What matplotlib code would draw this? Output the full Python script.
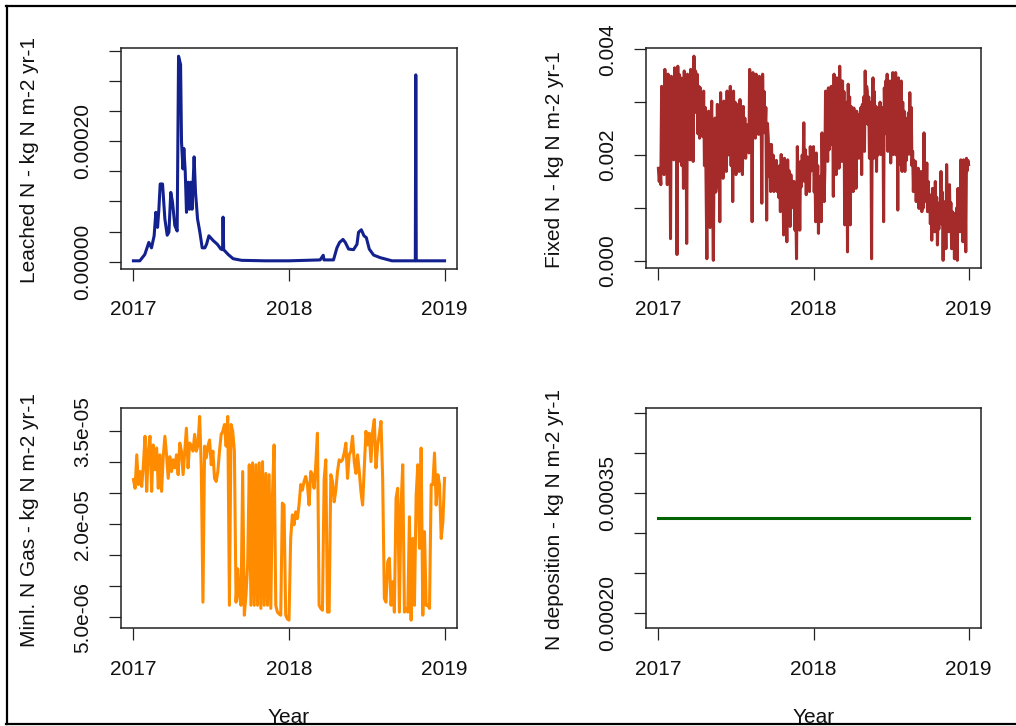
import numpy as np
import matplotlib
matplotlib.use("Agg")
import matplotlib.pyplot as plt
from matplotlib.lines import Line2D

plt.rcParams["font.family"] = ["Liberation Sans", "DejaVu Sans"]

W, H = 1016, 726

# ---- Leached N (sparse trace, decimal year offsets from 2017) ----
leach_t = [0.000, 0.041, 0.073, 0.099, 0.116, 0.133, 0.144, 0.155, 0.163, 0.172,
           0.187, 0.202, 0.217, 0.228, 0.240, 0.251, 0.266, 0.281, 0.290, 0.303,
           0.309, 0.318, 0.324, 0.333, 0.341, 0.352, 0.360, 0.369, 0.377, 0.390,
           0.399, 0.412, 0.427, 0.442, 0.459, 0.470, 0.485, 0.513, 0.539, 0.562,
           0.573, 0.576, 0.580, 0.609, 0.641, 0.695, 0.850, 1.000, 1.200, 1.220,
           1.225, 1.286, 1.308, 1.325, 1.347, 1.362, 1.383, 1.415, 1.437, 1.447,
           1.465, 1.482, 1.497, 1.516, 1.544, 1.587, 1.662, 1.812, 1.815, 1.818,
           2.000]
leach_v = [1.5e-6, 1.5e-6, 1.2e-5, 3.2e-5, 2.3e-5, 4.3e-5, 8.2e-5, 5.7e-5, 8.5e-5, 1.29e-4,
           1.29e-4, 7.1e-5, 4.4e-5, 4.9e-5, 1.15e-4, 9.9e-5, 6.0e-5, 5.1e-5, 3.41e-4, 3.27e-4,
           1.99e-4, 1.54e-4, 1.88e-4, 1.49e-4, 8.2e-5, 1.32e-4, 8.7e-5, 1.32e-4, 8.7e-5, 1.74e-4,
           1.15e-4, 7.1e-5, 4.9e-5, 2.3e-5, 2.3e-5, 2.9e-5, 4.3e-5, 3.5e-5, 2.9e-5, 2.1e-5,
           2.0e-5, 7.4e-5, 2.0e-5, 1.2e-5, 5.0e-6, 2.3e-6, 1.5e-6, 1.5e-6, 3.0e-6, 1.07e-5,
           3.0e-6, 3.0e-6, 2.3e-5, 3.2e-5, 3.7e-5, 3.2e-5, 2.1e-5, 2.0e-5, 2.9e-5, 4.9e-5,
           5.3e-5, 4.3e-5, 4.0e-5, 2.1e-5, 1.1e-5, 6.7e-6, 1.5e-6, 1.5e-6, 3.10e-4, 1.5e-6,
           1.5e-6]

# ---- Fixed N (read every ~2 days) ----
fixed_2017 = [0.00175, 0.00150, 0.00168, 0.00144, 0.00330, 0.00170, 0.00298, 0.00163,
              0.00362, 0.00180, 0.00340, 0.00144, 0.00353, 0.00210, 0.00335, 0.00042,
              0.00349, 0.00200, 0.00330, 0.00191, 0.00365, 0.00220, 0.00350, 0.00012,
              0.00368, 0.00195, 0.00352, 0.00188, 0.00346, 0.00180, 0.00320, 0.00137,
              0.00359, 0.00200, 0.00340, 0.00033, 0.00353, 0.00210, 0.00345, 0.00191,
              0.00362, 0.00230, 0.00350, 0.00188, 0.00387, 0.00300, 0.00359, 0.00280,
              0.00353, 0.00240, 0.00330, 0.00232, 0.00327, 0.00250, 0.00310, 0.00235,
              0.00321, 0.00180, 0.00290, 0.00137, 0.00004, 0.00250, 0.00283, 0.00150,
              0.00063, 0.00260, 0.00302, 0.00140, 0.00001, 0.00220, 0.00270, 0.00130,
              0.00144, 0.00296, 0.00180, 0.00280, 0.00074, 0.00318, 0.00170, 0.00290,
              0.00156, 0.00302, 0.00190, 0.00285, 0.00169, 0.00321, 0.00200, 0.00300,
              0.00201, 0.00330, 0.00180, 0.00310, 0.00112, 0.00321, 0.00170, 0.00300,
              0.00163, 0.00296, 0.00190, 0.00280, 0.00169, 0.00305, 0.00200, 0.00290,
              0.00163, 0.00292, 0.00210, 0.00270, 0.00194, 0.00258, 0.00210, 0.00240,
              0.00204, 0.00362, 0.00250, 0.00350, 0.00074, 0.00356, 0.00260, 0.00345,
              0.00232, 0.00353, 0.00270, 0.00340, 0.00239, 0.00349, 0.00260, 0.00330,
              0.00109, 0.00353, 0.00250, 0.00320, 0.00242, 0.00290, 0.00077, 0.00260,
              0.00232, 0.00160, 0.00220, 0.00131, 0.00220, 0.00150, 0.00200, 0.00131,
              0.00185, 0.00140, 0.00190, 0.00131, 0.00175, 0.00120, 0.00180, 0.00093,
              0.00201, 0.00110, 0.00170, 0.00049, 0.00194, 0.00120, 0.00160, 0.00036,
              0.00191, 0.00110, 0.00170, 0.00065, 0.00163, 0.00120, 0.00150, 0.00100,
              0.00150, 0.00058, 0.00120, 0.00004, 0.00216, 0.00120, 0.00180, 0.00058,
              0.00188, 0.00140, 0.00200, 0.00163, 0.00261, 0.00150, 0.00210, 0.00125,
              0.00197, 0.00150, 0.00190, 0.00131, 0.00216, 0.00170, 0.00200, 0.00194]
fixed_2018 = [0.00216, 0.00130, 0.00190, 0.00074, 0.00204, 0.00120, 0.00180, 0.00052,
              0.00144, 0.00100, 0.00160, 0.00074, 0.00242, 0.00150, 0.00220, 0.00112,
              0.00169, 0.00321, 0.00200, 0.00300, 0.00188, 0.00327, 0.00210, 0.00310,
              0.00220, 0.00330, 0.00230, 0.00320, 0.00122, 0.00353, 0.00220, 0.00330,
              0.00163, 0.00346, 0.00230, 0.00335, 0.00175, 0.00368, 0.00240, 0.00340,
              0.00188, 0.00340, 0.00220, 0.00320, 0.00068, 0.00251, 0.00200, 0.00300,
              0.00017, 0.00334, 0.00210, 0.00310, 0.00068, 0.00292, 0.00200, 0.00280,
              0.00131, 0.00289, 0.00210, 0.00270, 0.00137, 0.00283, 0.00220, 0.00275,
              0.00194, 0.00277, 0.00220, 0.00290, 0.00163, 0.00296, 0.00230, 0.00310,
              0.00207, 0.00359, 0.00260, 0.00330, 0.00320, 0.00258, 0.00310, 0.00194,
              0.00226, 0.00300, 0.00004, 0.00280, 0.00346, 0.00194, 0.00320, 0.00210,
              0.00292, 0.00169, 0.00280, 0.00200, 0.00290, 0.00226, 0.00300, 0.00201,
              0.00280, 0.00226, 0.00290, 0.00074, 0.00327, 0.00251, 0.00340, 0.00240,
              0.00353, 0.00207, 0.00330, 0.00220, 0.00340, 0.00185, 0.00320, 0.00210,
              0.00356, 0.00201, 0.00330, 0.00230, 0.00356, 0.00200, 0.00330, 0.00096,
              0.00346, 0.00182, 0.00320, 0.00200, 0.00340, 0.00169, 0.00300, 0.00190,
              0.00283, 0.00169, 0.00270, 0.00190, 0.00258, 0.00201, 0.00280, 0.00210,
              0.00318, 0.00201, 0.00290, 0.00180, 0.00207, 0.00131, 0.00190, 0.00140,
              0.00188, 0.00112, 0.00170, 0.00120, 0.00175, 0.00099, 0.00160, 0.00110,
              0.00169, 0.00093, 0.00150, 0.00100, 0.00242, 0.00112, 0.00170, 0.00120,
              0.00185, 0.00093, 0.00150, 0.00100, 0.00125, 0.00070, 0.00120, 0.00039,
              0.00137, 0.00080, 0.00130, 0.00055, 0.00150, 0.00080, 0.00120, 0.00030,
              0.00106, 0.00060, 0.00110, 0.00080, 0.00169, 0.00070, 0.00130, 0.00001,
              0.00112, 0.00060, 0.00100, 0.00023, 0.00182, 0.00080, 0.00140, 0.00055,
              0.00144, 0.00070, 0.00110, 0.00023, 0.00093, 0.00050, 0.00090, 0.00004,
              0.00080, 0.00040, 0.00100, 0.00001, 0.00137, 0.00070, 0.00120, 0.00055,
              0.00191, 0.00080, 0.00150, 0.00036, 0.00191, 0.00090, 0.00160, 0.00017,
              0.00194, 0.00170, 0.00190, 0.00182]

# ---- Mineralised N gas (units of 1e-5, read every ~4 days) ----
minl_2017 = [2.72, 2.58, 3.12, 2.64, 2.85, 2.61, 2.96, 3.42, 2.53, 3.18,
             3.42, 2.53, 3.28, 2.88, 3.23, 2.58, 3.12, 2.53, 3.09, 3.42,
             3.12, 2.74, 3.09, 2.85, 3.04, 2.91, 3.12, 2.80, 3.31, 3.18,
             2.80, 3.18, 3.55, 2.91, 3.31, 3.26, 3.18, 3.45, 3.18, 3.28,
             3.74, 2.91, 0.74, 3.26, 3.07, 3.26, 3.36, 2.96, 3.18, 2.74,
             2.69, 2.85, 3.18, 3.45, 3.50, 3.61, 3.26, 3.74, 0.69, 3.61,
             3.50, 3.18, 0.74, 1.28, 0.85, 0.69, 2.85, 0.53, 0.85, 1.34,
             2.96, 0.69, 2.99, 0.69, 2.96, 0.69, 2.99, 0.64, 3.01, 0.69,
             2.82, 0.69, 2.80, 0.64, 2.47, 3.28, 0.69, 0.58, 0.55, 0.53,
             2.34, 2.31, 0.53, 0.47]
minl_2018 = [0.45, 1.77, 2.15, 1.99, 2.20, 2.09, 2.31, 2.64, 2.55, 2.69,
             2.77, 2.64, 2.31, 2.85, 2.80, 2.58, 2.96, 3.47, 0.69, 0.64,
             0.61, 2.72, 3.04, 0.58, 0.58, 2.80, 2.69, 2.36, 2.55, 2.85,
             3.04, 3.01, 3.04, 3.15, 3.31, 2.74, 3.12, 3.18, 3.42, 3.01,
             2.82, 3.12, 2.85, 2.53, 2.31, 2.91, 3.50, 3.28, 3.47, 3.01,
             3.50, 3.69, 2.91, 3.28, 3.45, 3.66, 2.74, 0.80, 0.74, 1.39,
             1.45, 0.69, 1.07, 0.58, 2.42, 2.58, 0.58, 2.31, 2.96, 0.58,
             0.64, 0.58, 2.12, 0.45, 1.77, 0.69, 2.45, 2.96, 1.61, 3.23,
             0.53, 1.88, 0.69, 0.69, 0.64, 2.64, 2.64, 3.15, 2.31, 2.80,
             2.64, 1.77, 2.04, 2.74]

# ---- N deposition (constant) ----
dep_t = [2017.0, 2019.0]
dep_v = [0.000318, 0.000318]

x_ticks = [2017, 2018, 2019]
leach_ticks = [0, 5e-5, 1e-4, 1.5e-4, 2e-4, 2.5e-4, 3e-4, 3.5e-4]
leach_labels = ["0.00000", "", "", "", "0.00020", "", "", ""]
fixed_ticks = [0, 0.001, 0.002, 0.003, 0.004]
fixed_labels = ["0.000", "", "0.002", "", "0.004"]
minl_ticks = [5e-6, 1e-5, 1.5e-5, 2e-5, 2.5e-5, 3e-5, 3.5e-5]
minl_labels = ["5.0e-06", "", "", "2.0e-05", "", "", "3.5e-05"]
dep_ticks = [2e-4, 2.5e-4, 3e-4, 3.5e-4, 4e-4, 4.5e-4]
dep_labels = ["0.00020", "", "", "0.00035", "", ""]

FS = 15
INK = "#222222"


def box(x0, y0, x1, y1):
    return [x0 / W, 1 - y1 / H, (x1 - x0) / W, (y1 - y0) / H]


def style(ax, yticks, ylabels):
    ax.set_xticks(x_ticks)
    ax.set_xticklabels([str(v) for v in x_ticks], fontsize=FS)
    ax.set_yticks(yticks)
    ax.set_yticklabels(ylabels, fontsize=FS, rotation=90, va="center")
    ax.tick_params(axis="both", direction="out", length=8.6, width=0.9,
                   color=INK, labelcolor="#111111")
    ax.tick_params(axis="x", pad=14)
    ax.tick_params(axis="y", pad=12)
    for s in ax.spines.values():
        s.set_linewidth(1.1)
        s.set_color(INK)
    ax.margins(x=0.04, y=0.04)


fig = plt.figure(figsize=(W / 100, H / 100), dpi=100)

ax1 = fig.add_axes(box(121, 48, 457, 269))
ax1.plot(2017 + np.array(leach_t), leach_v, color="#13218f", lw=2.2)
style(ax1, leach_ticks, leach_labels)

ax2 = fig.add_axes(box(646, 48, 981, 268.5))
t_fixed = np.concatenate([np.linspace(2017, 2018, len(fixed_2017), endpoint=False),
                          np.linspace(2018, 2019, len(fixed_2018))])
ax2.plot(t_fixed, fixed_2017 + fixed_2018, color="#a52a2a", lw=2.2)
style(ax2, fixed_ticks, fixed_labels)

ax3 = fig.add_axes(box(121, 408.3, 457, 628.3))
t_minl = np.concatenate([np.linspace(2017, 2018, len(minl_2017), endpoint=False),
                         np.linspace(2018, 2019, len(minl_2018))])
ax3.plot(t_minl, np.array(minl_2017 + minl_2018) * 1e-5, color="#ff8c00", lw=2.2)
style(ax3, minl_ticks, minl_labels)

ax4 = fig.add_axes(box(646, 408.3, 981, 628.3))
ax4.plot(dep_t, dep_v, color="#006400", lw=2.2)
style(ax4, dep_ticks, dep_labels)
# R style range for a constant series: value +/- 40 %, then 4 % padding
lo, hi = dep_v[0] * 0.6, dep_v[0] * 1.4
pad = (hi - lo) * 0.04
ax4.set_ylim(lo - pad, hi + pad)

ylabels = [(30, 160, "Leached N - kg N m-2 yr-1"),
           (555, 160, "Fixed N - kg N m-2 yr-1"),
           (30, 520, "Minl. N Gas - kg N m-2 yr-1"),
           (555, 520, "N deposition - kg N m-2 yr-1")]
for x, y, s in ylabels:
    fig.text(x / W, 1 - y / H, s, rotation=90, ha="center", va="center",
             fontsize=FS, color="#111111")

for x in (289, 813.5):
    fig.text(x / W, 1 - 723 / H, "Year", ha="center", va="baseline",
             fontsize=FS, color="#111111")

# outer frame (top, left, bottom edges)
frame = dict(color="black", lw=1.6)
fig.add_artist(Line2D([6 / W, 1], [1 - 5.5 / H, 1 - 5.5 / H], **frame))
fig.add_artist(Line2D([6.5 / W, 6.5 / W], [1 - 5.5 / H, 1 - 724 / H], **frame))
fig.add_artist(Line2D([6 / W, 1], [1 - 724 / H, 1 - 724 / H], **frame))

fig.savefig("out.png", dpi=100)
